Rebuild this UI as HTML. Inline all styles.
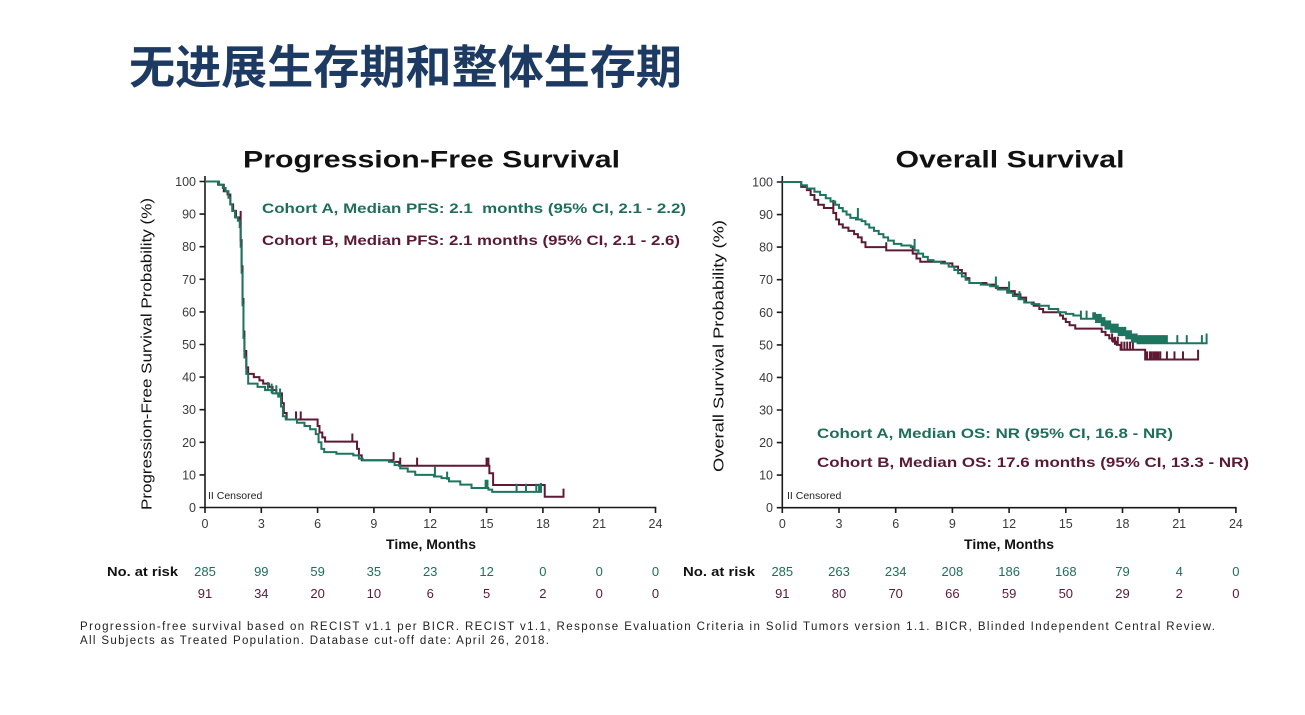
<!DOCTYPE html>
<html><head><meta charset="utf-8"><style>
html,body{margin:0;padding:0;background:#fff;}
svg{display:block;}
text{font-family:"Liberation Sans",Arial,"Noto Sans CJK SC",sans-serif;}
.tk{font-size:12.5px;fill:#3a3a3a;}
.ax{stroke:#1a1a1a;stroke-width:1.6;fill:none;}
.g{stroke:#1d7560;fill:none;stroke-width:2;vector-effect:non-scaling-stroke;stroke-linejoin:miter;}
.r{stroke:#5e1a33;fill:none;stroke-width:2;vector-effect:non-scaling-stroke;}
.gt{fill:#1f6e5b;}
.rt{fill:#5a1a33;}
.lg{font-size:14px;font-weight:bold;}
.ar{font-size:13px;text-anchor:middle;}
</style></head><body>
<svg width="1305" height="715" viewBox="0 0 1305 715" xmlns="http://www.w3.org/2000/svg">
<rect width="1305" height="715" fill="#fff"/>
<text x="129" y="83.5" font-size="46" font-weight="bold" fill="#1d3a63" textLength="553" lengthAdjust="spacingAndGlyphs" style='font-family:"Noto Sans CJK SC","WenQuanYi Zen Hei",sans-serif'>无进展生存期和整体生存期</text>

<!-- LEFT CHART -->
<text x="431.5" y="167.5" font-size="24" font-weight="bold" fill="#111" text-anchor="middle" textLength="377" lengthAdjust="spacingAndGlyphs">Progression-Free Survival</text>
<path class="ax" d="M205 176 V508 M204.2 507.5 H656.3"/>
<path class="ax" d="M199.5 181.5H205M199.5 214.1H205M199.5 246.7H205M199.5 279.3H205M199.5 311.9H205M199.5 344.5H205M199.5 377.1H205M199.5 409.7H205M199.5 442.3H205M199.5 474.9H205M199.5 507.5H205
M205 507.5V513M261.3 507.5V513M317.6 507.5V513M373.9 507.5V513M430.2 507.5V513M486.6 507.5V513M542.9 507.5V513M599.2 507.5V513M655.5 507.5V513"/>
<g class="tk" text-anchor="end">
<text x="196" y="186">100</text><text x="196" y="218.6">90</text><text x="196" y="251.2">80</text><text x="196" y="283.8">70</text><text x="196" y="316.4">60</text><text x="196" y="349">50</text><text x="196" y="381.6">40</text><text x="196" y="414.2">30</text><text x="196" y="446.8">20</text><text x="196" y="479.4">10</text><text x="196" y="512">0</text>
</g>
<g class="tk" text-anchor="middle">
<text x="205" y="528">0</text><text x="261.3" y="528">3</text><text x="317.6" y="528">6</text><text x="373.9" y="528">9</text><text x="430.2" y="528">12</text><text x="486.6" y="528">15</text><text x="542.9" y="528">18</text><text x="599.2" y="528">21</text><text x="655.5" y="528">24</text>
</g>
<text x="431" y="549" font-size="14" font-weight="bold" fill="#111" text-anchor="middle">Time, Months</text>
<text transform="translate(151.5 354) rotate(-90)" font-size="15" fill="#111" text-anchor="middle" textLength="312" lengthAdjust="spacingAndGlyphs">Progression-Free Survival Probability (%)</text>
<text x="262" y="213" class="lg gt" textLength="424" lengthAdjust="spacingAndGlyphs" xml:space="preserve">Cohort A, Median PFS: 2.1  months (95% CI, 2.1 - 2.2)</text>
<text x="262" y="245" class="lg rt" textLength="418" lengthAdjust="spacingAndGlyphs">Cohort B, Median PFS: 2.1 months (95% CI, 2.1 - 2.6)</text>
<text x="208" y="499" font-size="10.5" fill="#222">II Censored</text>

<g transform="translate(205 507.5) scale(18.77 -3.26)">
<path class="r" d="M0 100 H0.7 V99 H1.0 V97 H1.2 V96 H1.35 V93 H1.5 V91 H1.65 V89 H1.8 V88 H1.9 V82 H1.95 V74 H2.0 V64 H2.05 V54 H2.1 V48 H2.2 V43 H2.3 V41 H2.6 V40 H2.9 V39 H3.1 V38 H3.4 V37 H3.6 V36 H3.8 V35 H4.1 V32 H4.2 V29 H4.35 V27 H6.0 V25 H6.1 V23 H6.25 V21.5 H6.4 V20.2 H8.1 V18 H8.2 V16 H8.35 V14.5 H10.0 V14 H10.35 V12.8 H15.15 V10.5 H15.35 V6.9 H18.1 V3.3 H19.1 V5.8
M1.9 86 V91 M4.85 27 V29.5 M5.1 27 V29.5 M7.85 20.2 V22.7 M10.05 14.5 V17 M10.4 12.8 V15.3 M11.3 12.8 V15.3 M15.0 12.8 V15.3 M15.1 12.8 V15.3"/>
<path class="g" d="M0 100 H0.75 V99 H0.95 V98 H1.1 V97 H1.25 V95 H1.35 V93 H1.45 V91 H1.6 V89 H1.75 V88 H1.85 V86 H1.9 V80 H1.95 V72 H2.0 V62 H2.05 V52 H2.1 V46 H2.2 V41 H2.3 V38 H2.8 V37 H3.2 V36 H3.6 V35 H3.9 V34 H4.05 V31 H4.15 V28 H4.3 V27 H4.9 V26 H5.3 V25 H5.6 V24 H5.9 V22.5 H6.05 V20 H6.2 V18 H6.35 V17 H7.0 V16.5 H7.9 V16 H8.2 V15 H8.4 V14.5 H9.8 V14 H10.1 V13 H10.4 V12 H10.8 V11 H11.2 V10 H12.2 V9.5 H12.6 V9 H13.0 V8 H13.6 V7 H14.2 V6 H15.1 V5.5 H15.3 V4.8 H17.9 V7.5
M3.35 36 V38.5 M3.55 35 V38 M3.8 35 V37.5 M4.0 34 V36.5 M12.25 9.5 V12.5 M12.9 8.5 V11 M14.95 6 V8.5 M15.05 6 V8.5 M16.6 4.8 V7.3 M17.1 4.8 V7.3 M17.65 4.8 V7.3 M17.8 4.8 V7.3"/>
</g>

<!-- RIGHT CHART -->
<text x="1010" y="167.5" font-size="24" font-weight="bold" fill="#111" text-anchor="middle" textLength="229" lengthAdjust="spacingAndGlyphs">Overall Survival</text>
<path class="ax" d="M782.3 176 V508 M781.5 507.7 H1236.7"/>
<path class="ax" d="M776.8 182H782.3M776.8 214.6H782.3M776.8 247.1H782.3M776.8 279.7H782.3M776.8 312.3H782.3M776.8 344.9H782.3M776.8 377.4H782.3M776.8 410H782.3M776.8 442.6H782.3M776.8 475.1H782.3M776.8 507.7H782.3
M782.3 507.7V513M839 507.7V513M895.7 507.7V513M952.4 507.7V513M1009.1 507.7V513M1065.8 507.7V513M1122.5 507.7V513M1179.2 507.7V513M1235.9 507.7V513"/>
<g class="tk" text-anchor="end">
<text x="773" y="186.5">100</text><text x="773" y="219.1">90</text><text x="773" y="251.6">80</text><text x="773" y="284.2">70</text><text x="773" y="316.8">60</text><text x="773" y="349.4">50</text><text x="773" y="381.9">40</text><text x="773" y="414.5">30</text><text x="773" y="447.1">20</text><text x="773" y="479.6">10</text><text x="773" y="512.2">0</text>
</g>
<g class="tk" text-anchor="middle">
<text x="782.3" y="528">0</text><text x="839" y="528">3</text><text x="895.7" y="528">6</text><text x="952.4" y="528">9</text><text x="1009.1" y="528">12</text><text x="1065.8" y="528">15</text><text x="1122.5" y="528">18</text><text x="1179.2" y="528">21</text><text x="1235.9" y="528">24</text>
</g>
<text x="1009" y="549" font-size="14" font-weight="bold" fill="#111" text-anchor="middle">Time, Months</text>
<text transform="translate(723.5 346) rotate(-90)" font-size="15" fill="#111" text-anchor="middle" textLength="252" lengthAdjust="spacingAndGlyphs">Overall Survival Probability (%)</text>
<text x="817" y="438" class="lg gt" textLength="356" lengthAdjust="spacingAndGlyphs">Cohort A, Median OS: NR (95% CI, 16.8 - NR)</text>
<text x="817" y="467" class="lg rt" textLength="432" lengthAdjust="spacingAndGlyphs">Cohort B, Median OS: 17.6 months (95% CI, 13.3 - NR)</text>
<text x="787" y="499" font-size="10.5" fill="#222">II Censored</text>

<g transform="translate(782.3 507.7) scale(18.9 -3.257)">
<path class="r" d="M0 100 H1.0 V98.5 H1.3 V97.5 H1.5 V96 H1.7 V94.5 H1.9 V93 H2.2 V92 H2.7 V90.5 H2.85 V88.5 H3.0 V87 H3.2 V86 H3.5 V85 H3.8 V84 H4.0 V83 H4.2 V81.5 H4.4 V80 H5.5 V79 H6.9 V78 H7.1 V76.5 H7.3 V75.5 H8.6 V75 H9.0 V74 H9.3 V73 H9.5 V72 H9.7 V70.5 H9.9 V69 H10.8 V68.5 H11.3 V67.5 H11.9 V66.5 H12.3 V65.5 H12.6 V64.5 H12.9 V63 H13.3 V62 H13.6 V61 H13.8 V60 H14.7 V59 H14.85 V58 H15.0 V57 H15.2 V56 H15.5 V55 H16.9 V54 H17.1 V53 H17.3 V52 H17.5 V51 H17.7 V50 H17.9 V48.5 H19.2 V45.5 H22.0 V48.5
M2.7 92 V94.5 M5.5 79 V81.5 M6.9 78 V80.5 M17.45 51 V53.5 M17.6 50 V52.5 M17.75 50 V52.5 M17.95 48.5 V51 M18.1 48.5 V51 M18.25 48.5 V51 M18.4 48.5 V51 M18.55 48.5 V51 M19.3 45.5 V48 M19.45 45.5 V48 M19.55 45.5 V48 M20.0 45.5 V48 M20.35 45.5 V48 M20.75 45.5 V48 M21.2 45.5 V48"/>
<rect x="19.6" y="45.5" width="0.35" height="2.5" fill="#5e1a33"/>
<path class="g" d="M0 100 H1.0 V99 H1.3 V98 H1.7 V97 H2.0 V96 H2.3 V95 H2.55 V94 H2.8 V93 H3.0 V92 H3.2 V91 H3.4 V90 H3.6 V89 H3.9 V88.5 H4.2 V88 H4.4 V87 H4.6 V86 H4.85 V85 H5.1 V84 H5.35 V83 H5.6 V82 H5.9 V81 H6.3 V80.5 H6.8 V80 H7.0 V79 H7.2 V78 H7.45 V77 H7.7 V76 H8.0 V75.5 H8.4 V75 H8.8 V74 H9.1 V73 H9.3 V72 H9.5 V71 H9.7 V70 H9.9 V69 H10.5 V68.5 H11.0 V68 H11.4 V67 H11.9 V66 H12.2 V65 H12.5 V64 H12.8 V63 H13.2 V62.5 H13.6 V62 H14.1 V61 H14.6 V60 H15.0 V59.5 H15.4 V59 H15.8 V58 H16.6 V57 H16.9 V56 H17.1 V55 H17.4 V54 H17.8 V53 H18.2 V52 H18.5 V51 H18.8 V50.5 H22.45 V53.5
M4.0 88.5 V92 M7.0 80 V82.5 M11.3 67.5 V71 M12.0 66 V69.5 M12.55 64 V66.5 M15.8 58 V60.5 M16.1 58 V60.5 M20.9 50.5 V53 M21.4 50.5 V53 M22.2 50.5 V53"/>
<polygon fill="#1d7560" points="16.4,58 16.6,58 16.6,57 16.9,57 16.9,56 17.1,56 17.1,55 17.4,55 17.4,54 17.8,54 17.8,53 18.2,53 18.2,52 18.5,52 18.5,51 18.8,51 18.8,50.5 20.4,50.5 20.4,53 18.8,53 18.8,53.5 18.5,53.5 18.5,54.5 18.2,54.5 18.2,55.5 17.8,55.5 17.8,56.5 17.4,56.5 17.4,57.5 17.1,57.5 17.1,58.5 16.9,58.5 16.9,59.5 16.6,59.5 16.6,60 16.4,60"/>
</g>

<!-- AT RISK -->
<text x="107" y="576" font-size="13" font-weight="bold" fill="#111" textLength="71" lengthAdjust="spacingAndGlyphs">No. at risk</text>
<g class="ar gt">
<text x="205" y="576">285</text><text x="261.3" y="576">99</text><text x="317.6" y="576">59</text><text x="373.9" y="576">35</text><text x="430.2" y="576">23</text><text x="486.6" y="576">12</text><text x="542.9" y="576">0</text><text x="599.2" y="576">0</text><text x="655.5" y="576">0</text>
</g>
<g class="ar rt">
<text x="205" y="598">91</text><text x="261.3" y="598">34</text><text x="317.6" y="598">20</text><text x="373.9" y="598">10</text><text x="430.2" y="598">6</text><text x="486.6" y="598">5</text><text x="542.9" y="598">2</text><text x="599.2" y="598">0</text><text x="655.5" y="598">0</text>
</g>
<text x="683" y="576" font-size="13" font-weight="bold" fill="#111" textLength="72" lengthAdjust="spacingAndGlyphs">No. at risk</text>
<g class="ar gt">
<text x="782.3" y="576">285</text><text x="839" y="576">263</text><text x="895.7" y="576">234</text><text x="952.4" y="576">208</text><text x="1009.1" y="576">186</text><text x="1065.8" y="576">168</text><text x="1122.5" y="576">79</text><text x="1179.2" y="576">4</text><text x="1235.9" y="576">0</text>
</g>
<g class="ar rt">
<text x="782.3" y="598">91</text><text x="839" y="598">80</text><text x="895.7" y="598">70</text><text x="952.4" y="598">66</text><text x="1009.1" y="598">59</text><text x="1065.8" y="598">50</text><text x="1122.5" y="598">29</text><text x="1179.2" y="598">2</text><text x="1235.9" y="598">0</text>
</g>

<!-- FOOTNOTE -->
<text x="80" y="630" font-size="11.5" fill="#222" textLength="1135" lengthAdjust="spacing">Progression-free survival based on RECIST v1.1 per BICR. RECIST v1.1, Response Evaluation Criteria in Solid Tumors version 1.1. BICR, Blinded Independent Central Review.</text>
<text x="80" y="644" font-size="11.5" fill="#222" textLength="469" lengthAdjust="spacing">All Subjects as Treated Population. Database cut-off date: April 26, 2018.</text>
</svg>
</body></html>
